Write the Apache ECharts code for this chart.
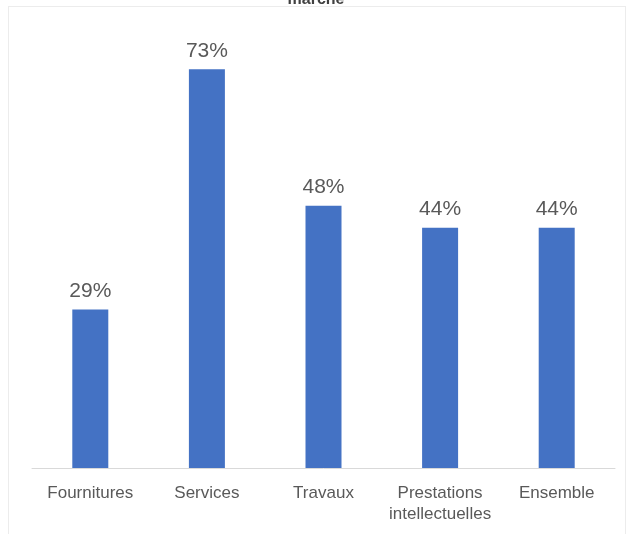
<!DOCTYPE html>
<html>
<head>
<meta charset="utf-8">
<script src="https://cdn.jsdelivr.net/npm/echarts@6/dist/echarts.min.js"></script>
<style>
  html, body { margin: 0; padding: 0; background: #fff; }
  #frame { position: absolute; left: 8px; top: 6px; width: 618px; height: 540px; border: 1px solid #ececec; box-sizing: border-box; }
  #chart { position: absolute; left: 0; top: 0; width: 632px; height: 534px; }
</style>
</head>
<body>
<div id="frame"></div>
<div id="chart"></div>
<script>
const categories = ['Fournitures', 'Services', 'Travaux', 'Prestations\nintellectuelles', 'Ensemble']
const shares = [29, 73, 48, 44, 44]

const chart = echarts.init(document.getElementById('chart'))
const option = {
  backgroundColor: 'transparent',
  textStyle: { fontFamily: 'Liberation Sans, Arial, sans-serif' },
  title: {
    text: 'marché',
    left: 'center',
    top: -13,
    textStyle: { fontSize: 16, fontWeight: 'bold', color: '#404040' }
  },
  grid: { left: 32, right: 17, top: 31, bottom: 66 },
  xAxis: {
    type: 'category',
    data: categories,
    axisLine: { lineStyle: { color: '#d9d9d9', width: 1 } },
    axisTick: { show: false },
    axisLabel: {
      color: '#595959',
      fontSize: 17,
      lineHeight: 21,
      margin: 15,
      interval: 0
    }
  },
  yAxis: {
    type: 'value',
    min: 0,
    max: 80,
    show: false
  },
  series: [
    {
      type: 'bar',
      data: shares,
      barWidth: 36,
      itemStyle: { color: '#4472c4' },
      label: {
        show: true,
        position: 'top',
        distance: 8,
        color: '#595959',
        fontSize: 21,
        formatter: p => p.value + '%'
      }
    }
  ]
}
chart.setOption(option)
window.addEventListener('resize', () => chart.resize())
</script>
</body>
</html>
